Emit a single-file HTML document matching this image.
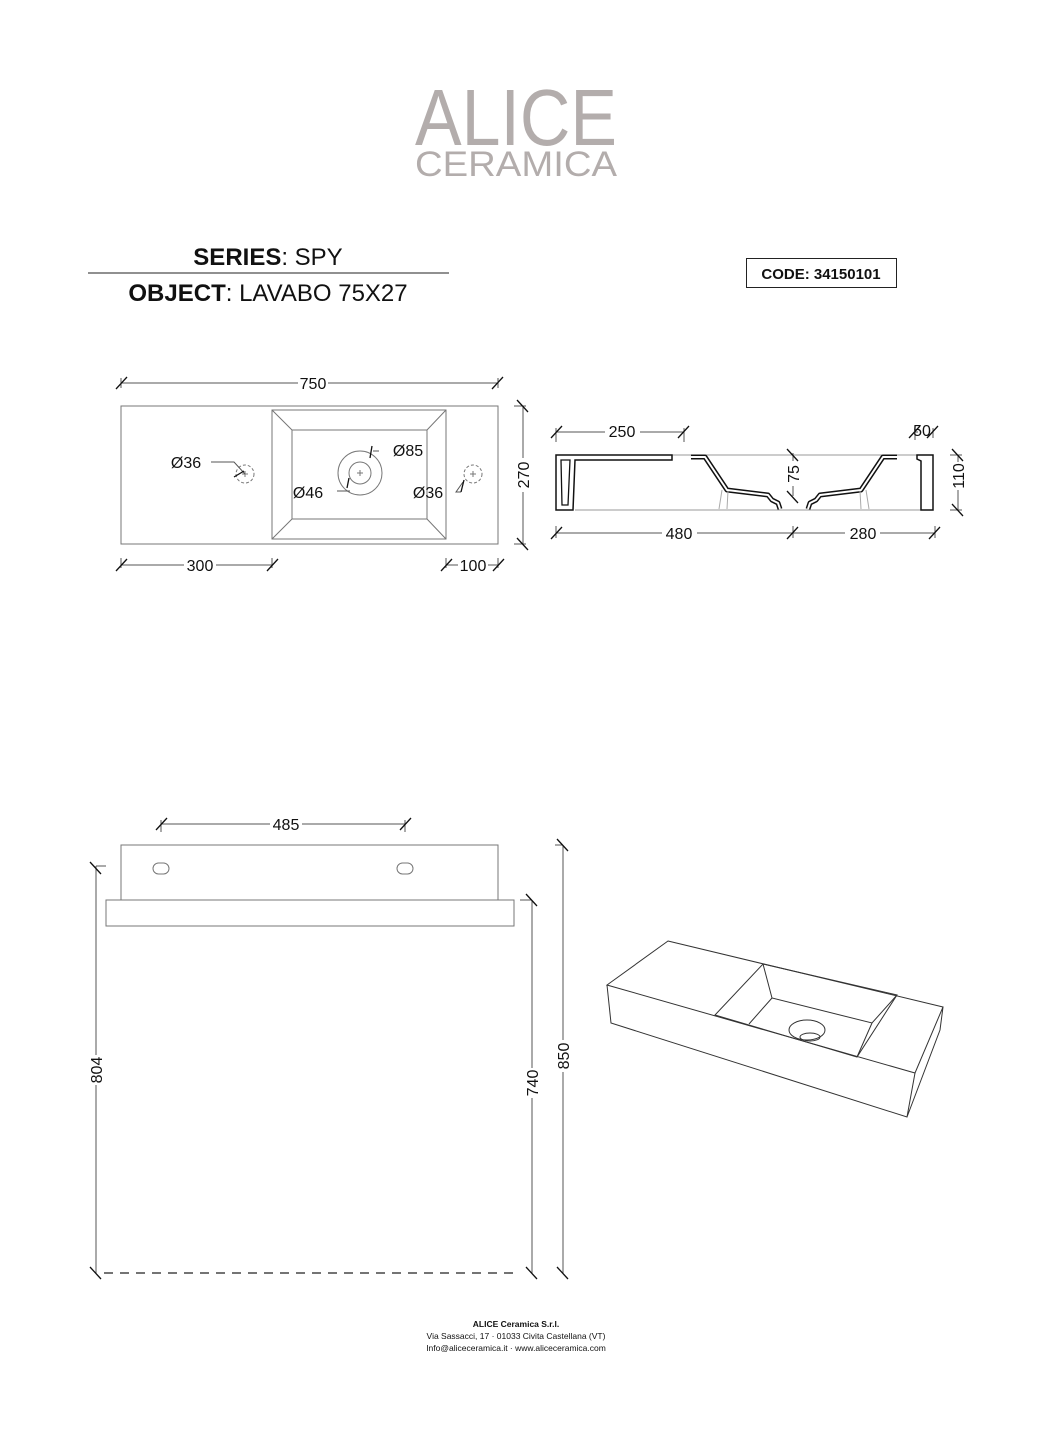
<!DOCTYPE html>
<html><head><meta charset="utf-8"><style>
html,body{margin:0;padding:0;background:#fff}
svg{display:block}
</style></head><body>
<svg width="1052" height="1440" viewBox="0 0 1052 1440" xmlns="http://www.w3.org/2000/svg" font-family="Liberation Sans, sans-serif">
<rect width="1052" height="1440" fill="#fff"/>
<!-- logo -->
<text x="415" y="145" font-size="80" fill="#b3adac" textLength="202" lengthAdjust="spacingAndGlyphs">ALICE</text>
<text x="415" y="176" font-size="35" fill="#b3adac" textLength="202" lengthAdjust="spacingAndGlyphs">CERAMICA</text>
<!-- title -->
<text x="268" y="265" font-size="24" text-anchor="middle" fill="#111"><tspan font-weight="bold">SERIES</tspan>: SPY</text>
<line x1="88" y1="273" x2="449" y2="273" stroke="#222" stroke-width="1"/>
<text x="268" y="301" font-size="24" text-anchor="middle" fill="#111"><tspan font-weight="bold">OBJECT</tspan>: LAVABO 75X27</text>
<rect x="746.5" y="258.5" width="150" height="29" fill="none" stroke="#222" stroke-width="1"/>
<text x="821" y="279" font-size="15" font-weight="bold" text-anchor="middle" fill="#111">CODE: 34150101</text>

<g stroke="#555" stroke-width="1" fill="none">
<!-- top view -->
<rect x="121" y="406" width="377" height="138" stroke="#777"/>
<rect x="272" y="410" width="174" height="129" stroke="#777"/>
<rect x="292" y="430" width="135" height="89" stroke="#777"/>
<path d="M272 410L292 430M446 410L427 430M272 539L292 519M446 539L427 519" stroke="#777"/>
<circle cx="360" cy="473" r="22" stroke="#777"/>
<circle cx="360" cy="473" r="11" stroke="#777"/>
<path d="M357 473h6M360 470v6" stroke="#777"/>
<circle cx="245" cy="474" r="9" stroke-dasharray="3,2" stroke="#777"/>
<circle cx="473" cy="474" r="9" stroke-dasharray="3,2" stroke="#777"/>
<path d="M242 474h6M245 471v6M470 474h6M473 471v6" stroke="#777"/>
<path d="M211 462h23l11 12M350 491h-13M373 451h6M461 492h-5l7-10"/>
<path d="M234 477l10-6M349 478l-2 10M372 446l-2 12M464 480l-3 12" stroke="#111" stroke-width="1.3"/>
<!-- 750 -->
<path d="M121 383H298M328 383H498M121 378v10M498 378v10"/>
<path d="M116 389l11-12M492 389l11-12" stroke="#111" stroke-width="1.3"/>
<!-- 270 -->
<path d="M523 406V458M523 492V544M514 406h12M514 544h12"/>
<path d="M517 400l11 12M517 538l11 12" stroke="#111" stroke-width="1.3"/>
<!-- 300 -->
<path d="M121 565H184M216 565H272M121 558v10M272 558v10"/>
<path d="M116 571l11-12M267 571l11-12" stroke="#111" stroke-width="1.3"/>
<!-- 100 -->
<path d="M446 565H458M488 565H498M446 558v10M498 558v10"/>
<path d="M441 571l11-12M493 571l11-12" stroke="#111" stroke-width="1.3"/>

<!-- section -->
<path d="M575 455H933M575 510H933" stroke="#999"/>
<path d="M556 455H672V460H575L573 510H556Z" stroke="#111" stroke-width="1.5"/>
<path d="M561 460H570L568 505H562Z" stroke="#111" stroke-width="1.3"/>
<path d="M691 457H705L727 490L768 495L772 500L778 503L780 509" stroke="#111" stroke-width="5" stroke-linejoin="round"/>
<path d="M691 457H705L727 490L768 495L772 500L778 503L780 509" stroke="#fff" stroke-width="2" stroke-linejoin="round"/>
<path d="M897 457H883L861 490L820 495L816 500L810 503L808 509" stroke="#111" stroke-width="5" stroke-linejoin="round"/>
<path d="M897 457H883L861 490L820 495L816 500L810 503L808 509" stroke="#fff" stroke-width="2" stroke-linejoin="round"/>
<path d="M917 455H933V510H921V461L917 459Z" stroke="#111" stroke-width="1.5"/>
<path d="M722 490l-3 19M728 491l-1 18M860 491l1 18M866 490l3 19" stroke="#aaa"/>
<!-- 250 -->
<path d="M556 432H605M640 432H684M556 428v14M684 428v14"/>
<path d="M551 438l11-12M678 438l11-12" stroke="#111" stroke-width="1.3"/>
<!-- 50 -->
<path d="M915 432H918M915 428v12M933 428v10"/>
<path d="M909 438l11-12M927 438l11-12" stroke="#111" stroke-width="1.3"/>
<!-- 75 -->
<path d="M793 453V461M793 486V496"/>
<path d="M787 449l11 12M787 491l11 12" stroke="#111" stroke-width="1.3"/>
<!-- 110 -->
<path d="M958 455V462M958 490V510M950 455h12M950 510h12"/>
<path d="M952 449l11 12M952 504l11 12" stroke="#111" stroke-width="1.3"/>
<!-- 480 / 280 -->
<path d="M556 533H662M697 533H793M793 533H845M880 533H935M556 526v12M793 526v12M935 526v12"/>
<path d="M551 539l11-12M787 539l11-12M929 539l11-12" stroke="#111" stroke-width="1.3"/>

<!-- front view -->
<rect x="121" y="845" width="377" height="55" stroke="#777"/>
<rect x="106" y="900" width="408" height="26" stroke="#777"/>
<rect x="153" y="863" width="16" height="11" rx="5.5" stroke="#777"/>
<rect x="397" y="863" width="16" height="11" rx="5.5" stroke="#777"/>
<path d="M161 824H270M302 824H405M161 820v12M405 820v12"/>
<path d="M156 830l11-12M400 830l11-12" stroke="#111" stroke-width="1.3"/>
<path d="M96 866V1055M96 1085V1273M96 866h10"/>
<path d="M90 862l11 12M90 1267l11 12" stroke="#111" stroke-width="1.3"/>
<path d="M532 900V1068M532 1098V1273M520 900h12"/>
<path d="M526 894l11 12M526 1267l11 12" stroke="#111" stroke-width="1.3"/>
<path d="M563 845V1040M563 1072V1273M555 845h8"/>
<path d="M557 839l11 12M557 1267l11 12" stroke="#111" stroke-width="1.3"/>
<path d="M104 1273H520" stroke="#222" stroke-width="1.3" stroke-dasharray="9,7"/>

<!-- iso view -->
<g stroke="#333" stroke-width="1">
<path d="M668 941L943 1007L915 1073L607 985Z"/>
<path d="M607 985L611 1023L907 1117L915 1073M943 1007L940 1030L907 1117"/>
<path d="M763 964L897 995L857 1057L715 1015Z"/>
<path d="M763 964L772 998L872 1023L897 995M772 998L749 1024M872 1023L857 1057"/>
<ellipse cx="807" cy="1030" rx="18" ry="10"/>
<ellipse cx="810" cy="1037" rx="10" ry="4"/>
</g>
</g>

<g font-size="16" fill="#111" text-anchor="middle">
<text x="313" y="389">750</text>
<text x="200" y="571">300</text>
<text x="473" y="571">100</text>
<text x="186" y="468">Ø36</text>
<text x="408" y="456">Ø85</text>
<text x="308" y="498">Ø46</text>
<text x="428" y="498">Ø36</text>
<text transform="translate(529,475) rotate(-90)">270</text>
<text x="622" y="437">250</text>
<text x="922" y="436">50</text>
<text transform="translate(799,474) rotate(-90)">75</text>
<text transform="translate(964,476) rotate(-90)">110</text>
<text x="679" y="539">480</text>
<text x="863" y="539">280</text>
<text x="286" y="830">485</text>
<text transform="translate(102,1070) rotate(-90)">804</text>
<text transform="translate(538,1083) rotate(-90)">740</text>
<text transform="translate(569,1056) rotate(-90)">850</text>
</g>

<g font-size="8.5" fill="#111" text-anchor="middle">
<text x="516" y="1327" font-weight="bold">ALICE Ceramica S.r.l.</text>
<text x="516" y="1339">Via Sassacci, 17 · 01033 Civita Castellana (VT)</text>
<text x="516" y="1351">Info@aliceceramica.it · www.aliceceramica.com</text>
</g>
</svg>
</body></html>
